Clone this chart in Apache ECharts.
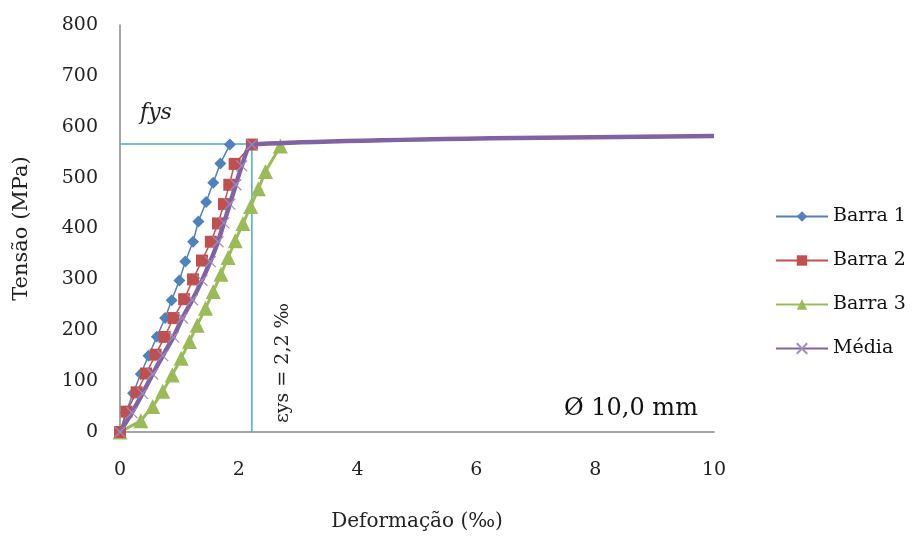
<!DOCTYPE html>
<html><head><meta charset="utf-8">
<script src="https://cdn.jsdelivr.net/npm/echarts@6/dist/echarts.min.js"></script>
<style>html,body{margin:0;padding:0;background:#fff}#c{width:912px;height:543px}</style>
</head><body><div id="c"></div>
<script>
// Data (strain ‰, stress MPa)
const barra1 = [[0,0],[0.1,38],[0.22,76],[0.35,114],[0.48,150],[0.62,187],[0.76,224],[0.87,259],[1.0,298],[1.1,335],[1.23,374],[1.32,414],[1.45,452],[1.57,490],[1.69,528],[1.85,565]];
const barra2 = [[0,0],[0.11,40],[0.28,78],[0.44,115],[0.6,152],[0.75,187],[0.9,224],[1.08,261],[1.23,300],[1.38,337],[1.53,374],[1.65,410],[1.75,448],[1.84,486],[1.93,527],[2.22,565]];
const barra3 = [[0,0],[0.35,22],[0.55,50],[0.72,80],[0.88,112],[1.03,145],[1.17,178],[1.3,210],[1.44,243],[1.57,276],[1.7,310],[1.82,343],[1.94,376],[2.07,410],[2.2,443],[2.33,478],[2.45,512],[2.7,562]];
const media = [[0,0],[0.2,38],[0.38,76],[0.55,114],[0.72,150],[0.9,187],[1.05,224],[1.22,260],[1.38,298],[1.52,335],[1.65,374],[1.75,411],[1.85,448],[1.95,486],[2.05,523],[2.22,565],[10,582]];
const yieldStrain = 2.22, yieldStress = 566;
const refLines = [[0,yieldStress],[yieldStrain,yieldStress],[yieldStrain,0]];
const xTicks = {min:0,max:10,step:2};
const yTicks = {min:0,max:800,step:100};

const serif = '"DejaVu Serif","Liberation Serif",serif';
const chart = echarts.init(document.getElementById('c'));
const cross = 'path://M0,0L10,10M10,0L0,10';
const mediaData = media.map((p,i)=> i===media.length-1 ? {value:p,symbolSize:0} : p);
chart.setOption({
  animation:false,
  grid:{left:120,right:198,top:25,bottom:111},
  xAxis:{type:'value',min:xTicks.min,max:xTicks.max,interval:xTicks.step,
    name:'Deformação (‰)',nameLocation:'middle',nameGap:80,
    nameTextStyle:{fontFamily:serif,fontSize:20,color:'#222'},
    axisLine:{show:true,lineStyle:{color:'#888',width:1.5}},axisTick:{show:false},splitLine:{show:false},
    axisLabel:{fontFamily:serif,fontSize:19,color:'#222',margin:29}},
  yAxis:{type:'value',min:yTicks.min,max:yTicks.max,interval:yTicks.step,
    name:'Tensão (MPa)',nameLocation:'middle',nameGap:88,
    nameTextStyle:{fontFamily:serif,fontSize:21,color:'#222'},
    axisLine:{show:true,lineStyle:{color:'#888',width:1.5}},axisTick:{show:false},splitLine:{show:false},
    axisLabel:{fontFamily:serif,fontSize:19,color:'#222',margin:22}},
  legend:{orient:'vertical',left:770,top:202,itemGap:25,itemWidth:52,itemHeight:13,
    textStyle:{fontFamily:serif,fontSize:19,color:'#111'},
    data:['Barra 1','Barra 2','Barra 3','Média']},
  series:[
    {name:'ref',type:'line',data:refLines,symbol:'none',lineStyle:{color:'#4BACC6',width:1.5},z:1,silent:true},
    {name:'Barra 1',type:'line',data:barra1,symbol:'diamond',symbolSize:12,color:'#4F81BD',
      lineStyle:{width:1.5},itemStyle:{color:'#4F81BD'},z:3},
    {name:'Barra 2',type:'line',data:barra2,symbol:'rect',symbolSize:12,color:'#C0504D',
      lineStyle:{width:1.5},itemStyle:{color:'#C0504D'},z:4},
    {name:'Barra 3',type:'line',data:barra3,symbol:'triangle',symbolSize:15,color:'#9BBB59',
      lineStyle:{width:3},itemStyle:{color:'#9BBB59'},z:2},
    {name:'Média',type:'line',data:mediaData,symbol:cross,symbolSize:11,smooth:0.2,color:'#8064A2',
      lineStyle:{width:4.5,color:'#8064A2'},itemStyle:{color:'rgba(0,0,0,0)',borderColor:'#a08cc0',borderWidth:1.2},z:5}
  ],
  graphic:[
    {type:'text',left:140,top:102,style:{text:'fys',font:'italic 22px '+serif,fill:'#222'}},
    {type:'text',x:274,y:363,rotation:Math.PI/2,style:{text:'εys = 2,2 ‰',font:'19px '+serif,fill:'#222',align:'center',verticalAlign:'top'}},
    {type:'text',left:564,top:397,style:{text:'Ø 10,0 mm',font:'24px '+serif,fill:'#111'}}
  ]
});
</script></body></html>
